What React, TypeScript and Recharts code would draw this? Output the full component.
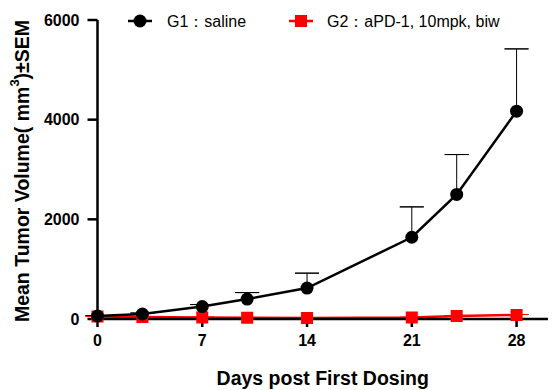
import React from "react";
import { LineChart, Line, XAxis, YAxis, ErrorBar } from "recharts";

const days = [0, 3, 7, 10, 14, 21, 24, 28];
const g1Mean = [60, 100, 250, 400, 620, 1640, 2500, 4170];
const g1Sem = [10, 20, 40, 130, 300, 610, 800, 1250];
const g2Mean = [50, 40, 30, 25, 20, 30, 60, 80];
const g2Sem = [5, 5, 5, 5, 5, 5, 10, 10];
const xTicks = [0, 7, 14, 21, 28];
const yTicks = [0, 2000, 4000, 6000];

// stem: mean -> mean+sem (no caps); cap: both ends at mean+sem
const data = days.map((d, i) => ({
  day: d,
  g1: g1Mean[i],
  g1Stem: [0, g1Sem[i]],
  g1Cap: [-g1Sem[i], g1Sem[i]],
  g2: g2Mean[i],
  g2Stem: [0, g2Sem[i]],
  g2Cap: [-g2Sem[i], g2Sem[i]],
}));

const font = "'Liberation Sans', Arial, sans-serif";

function YLabel() {
  return (
    <text
      x={22}
      y={171}
      transform="rotate(-90 22 171)"
      textAnchor="middle"
      dominantBaseline="central"
      fontFamily={font}
      fontWeight="bold"
      fontSize={19.5}
      fill="#000"
    >
      Mean Tumor Volume( mm
      <tspan dy={-8} fontSize={13}>3</tspan>
      <tspan dy={8}>)±SEM</tspan>
    </text>
  );
}

function LegendBox() {
  return (
    <svg width={553} height={40} style={{ position: "absolute", left: 0, top: 0 }}>
      <g fontFamily={font} fontSize={16} fill="#000">
        <line x1={128} y1={21} x2={152} y2={21} stroke="#000" strokeWidth={2.5} />
        <circle cx={140} cy={21} r={6.5} fill="#000" />
        <text x={167} y={21} dominantBaseline="central">G1：saline</text>
        <line x1={289} y1={21} x2={313} y2={21} stroke="#ff0000" strokeWidth={2.5} />
        <rect x={295} y={15} width={12} height={12} fill="#ff0000" />
        <text x={327} y={21} dominantBaseline="central">G2：aPD-1, 10mpk, biw</text>
      </g>
    </svg>
  );
}

const circleDot = (p: any) => (
  <circle key={`c${p.index}`} cx={p.cx} cy={p.cy} r={6.5} fill="#000" />
);
const squareDot = (p: any) => (
  <rect key={`s${p.index}`} x={p.cx - 6} y={p.cy - 6} width={12} height={12} fill="#ff0000" />
);

export default function App() {
  return (
    <div style={{ position: "absolute", left: 0, top: 0, width: 553, height: 390, background: "#fff" }}>
      <LineChart width={553} height={390} data={data} margin={{ top: 20, right: 5, bottom: 0, left: 0 }}>
        <XAxis
          dataKey="day"
          type="number"
          domain={[0, 30.1]}
          ticks={xTicks}
          height={71}
          stroke="#000"
          strokeWidth={2.5}
          tickSize={8}
          tickMargin={8}
          tick={{ fill: "#000", fontFamily: font, fontWeight: "bold", fontSize: 16 }}
          label={{
            value: "Days post First Dosing",
            position: "insideBottom",
            offset: 5,
            fill: "#000",
            fontFamily: font,
            fontWeight: "bold",
            fontSize: 19.5,
          }}
        />
        <YAxis
          domain={[0, 6000]}
          ticks={yTicks}
          width={97.5}
          stroke="#000"
          strokeWidth={2.5}
          tickSize={10}
          tickMargin={8}
          tick={{ fill: "#000", fontFamily: font, fontWeight: "bold", fontSize: 16 }}
          label={<YLabel />}
        />
        <Line dataKey="g2" stroke="#ff0000" strokeWidth={2.5} dot={squareDot} isAnimationActive={false}>
          <ErrorBar dataKey="g2Stem" direction="y" stroke="#ff0000" strokeWidth={1} width={0} />
          <ErrorBar dataKey="g2Cap" direction="y" stroke="#ff0000" strokeWidth={1} width={12} />
        </Line>
        <Line dataKey="g1" stroke="#000" strokeWidth={2.5} dot={circleDot} isAnimationActive={false}>
          <ErrorBar dataKey="g1Stem" direction="y" stroke="#000" strokeWidth={1} width={0} />
          <ErrorBar dataKey="g1Cap" direction="y" stroke="#000" strokeWidth={1} width={12} />
        </Line>
      </LineChart>
      <LegendBox />
    </div>
  );
}
